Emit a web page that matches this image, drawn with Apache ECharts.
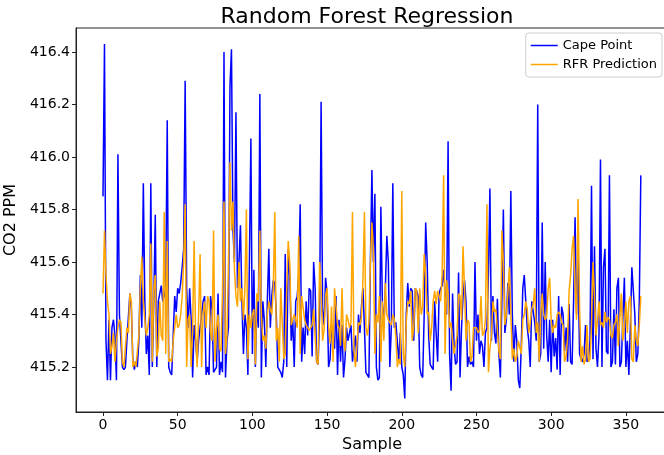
<!DOCTYPE html>
<html>
<head>
<meta charset="utf-8">
<script src="https://cdn.jsdelivr.net/npm/echarts@6/dist/echarts.min.js"></script>
<style>html,body{margin:0;padding:0;background:#fff}#c{width:664px;height:455px}</style>
</head>
<body>
<div id="c"></div>
<script>
const xTicks = [0, 50, 100, 150, 200, 250, 300, 350];
const yTicks = [415.2, 415.4, 415.6, 415.8, 416.0, 416.2, 416.4];
const capePoint = [
415.85,416.43,415.3,415.15,415.38,415.15,415.35,415.38,415.32,415.15,
416.01,415.4,415.3,415.2,415.19,415.2,415.3,415.3,415.48,415.42,
415.22,415.19,415.22,415.2,415.3,415.55,415.35,415.9,415.45,415.25,
415.32,415.17,415.9,415.2,415.45,415.78,415.2,415.45,415.45,415.51,
415.45,415.47,415.5,416.14,415.2,415.18,415.17,415.17,415.47,415.41,
415.5,415.48,415.52,415.58,415.65,416.29,415.5,415.35,415.5,415.38,
415.16,415.36,415.3,415.22,415.3,415.3,415.4,415.45,415.47,415.17,
415.2,415.17,415.47,415.42,415.18,415.18,415.2,415.48,415.17,415.22,
415.18,416.4,415.16,415.3,415.35,416.27,416.41,415.72,415.6,416.17,
415.5,415.6,415.74,415.45,415.25,415.4,415.35,415.17,415.6,416.07,
415.25,415.57,415.2,415.45,415.35,416.24,415.16,415.45,415.38,415.2,
415.45,415.65,415.35,415.47,415.53,415.52,415.4,415.2,415.2,415.18,
415.16,415.22,415.63,415.2,415.65,415.55,415.3,415.38,415.2,415.45,
415.47,415.55,415.82,415.22,415.35,415.25,415.45,415.32,415.5,415.49,
415.24,415.6,415.5,415.22,415.21,415.4,416.21,415.42,415.36,415.54,
415.48,415.2,415.23,415.36,415.3,415.27,415.47,415.17,415.38,415.22,
415.36,415.16,415.23,415.35,415.3,415.33,415.36,415.22,415.27,415.32,
415.22,415.4,415.33,415.43,415.5,415.35,415.18,415.18,415.16,415.6,
415.95,415.6,415.86,415.2,415.15,415.16,415.81,415.45,415.35,415.5,
415.7,415.6,415.2,415.35,415.9,415.35,415.37,415.3,415.22,415.33,
415.2,415.17,415.08,415.4,415.52,415.43,415.5,415.49,415.3,415.5,
415.49,415.47,415.2,415.17,415.16,415.4,415.75,415.6,415.32,415.21,
415.2,415.19,415.45,415.33,415.22,415.48,415.5,415.51,415.57,415.48,
415.4,416.06,415.25,415.11,415.48,415.28,415.21,415.22,415.56,415.16,
415.35,415.47,415.53,415.45,415.2,415.24,415.21,415.22,415.2,415.6,
415.3,415.4,415.25,415.3,415.28,415.2,415.33,415.35,415.55,415.88,
415.3,415.47,415.33,415.29,415.46,415.25,415.16,415.45,415.8,415.33,
415.38,415.52,415.4,415.87,415.4,415.22,415.36,415.3,415.15,415.12,
415.28,415.5,415.55,415.45,415.35,415.3,415.2,415.45,415.45,415.37,
415.3,416.2,415.22,415.25,415.75,415.27,415.6,415.32,415.22,415.38,
415.18,415.38,415.24,415.31,415.19,415.47,415.17,415.43,415.4,415.26,
415.35,415.22,415.44,415.22,415.21,415.45,415.77,415.4,415.61,415.25,
415.23,415.22,415.25,415.36,415.22,415.23,415.3,415.89,415.23,415.66,
415.27,415.2,415.32,415.99,415.2,415.58,415.65,415.26,415.25,415.93,
415.2,415.22,415.42,415.21,415.5,415.54,415.2,415.22,415.39,415.54,
415.2,415.3,415.17,415.35,415.58,415.49,415.4,415.22,415.25,415.45,
415.93
];
const rfrPrediction = [
415.48,415.72,415.55,415.45,415.4,415.25,415.28,415.33,415.22,415.3,
415.35,415.38,415.37,415.22,415.2,415.2,415.35,415.33,415.48,415.45,
415.2,415.22,415.2,415.26,415.32,415.5,415.62,415.45,415.38,415.32,
415.35,415.4,415.67,415.22,415.5,415.55,415.24,415.27,415.45,415.32,
415.3,415.79,415.25,415.68,415.22,415.23,415.22,415.3,415.35,415.4,
415.35,415.36,415.4,415.47,415.6,415.82,415.2,415.38,415.4,415.2,
415.35,415.68,415.32,415.2,415.4,415.63,415.2,415.4,415.45,415.35,
415.47,415.45,415.33,415.3,415.72,415.22,415.35,415.4,415.27,415.26,
415.5,415.83,415.25,415.32,415.6,415.98,415.72,415.83,415.57,415.47,
415.43,415.6,415.45,415.5,415.38,415.5,415.8,415.23,415.4,415.35,
415.4,415.42,415.21,415.48,415.45,415.72,415.4,415.3,415.32,415.27,
415.4,415.45,415.42,415.4,415.5,415.79,415.3,415.35,415.22,415.5,
415.37,415.23,415.25,415.5,415.68,415.6,415.36,415.36,415.4,415.38,
415.35,415.7,415.25,415.47,415.47,415.38,415.36,415.35,415.34,415.34,
415.36,415.42,415.42,415.22,415.21,415.6,415.5,415.3,415.34,415.47,
415.5,415.36,415.29,415.43,415.22,415.5,415.43,415.36,415.35,415.28,
415.5,415.3,415.26,415.4,415.38,415.35,415.37,415.79,415.26,415.2,
415.2,415.37,415.36,415.39,415.53,415.79,415.35,415.32,415.37,415.6,
415.75,415.65,415.25,415.4,415.37,415.47,415.22,415.45,415.3,415.52,
415.4,415.38,415.37,415.36,415.4,415.38,415.32,415.2,415.23,415.21,
415.87,415.25,415.2,415.37,415.45,415.44,415.49,415.3,415.35,415.5,
415.49,415.33,415.5,415.4,415.43,415.63,415.55,415.4,415.41,415.3,
415.35,415.45,415.49,415.44,415.49,415.49,415.45,415.55,415.93,415.25,
415.53,415.48,415.35,415.37,415.3,415.25,415.25,415.32,415.48,415.47,
415.38,415.66,415.5,415.3,415.38,415.37,415.22,415.24,415.35,415.35,
415.35,415.33,415.34,415.47,415.32,415.33,415.38,415.82,415.18,415.27,
415.32,415.45,415.41,415.42,415.42,415.26,415.23,415.72,415.6,415.36,
415.4,415.48,415.58,415.58,415.23,415.27,415.22,415.24,415.3,415.3,
415.25,415.38,415.4,415.45,415.42,415.33,415.37,415.42,415.44,415.5,
415.33,415.37,415.22,415.4,415.48,415.4,415.38,415.39,415.5,415.54,
415.38,415.33,415.36,415.35,415.4,415.41,415.4,415.37,415.36,415.22,
415.24,415.31,415.49,415.55,415.65,415.7,415.5,415.38,415.84,415.43,
415.22,415.28,415.21,415.23,415.36,415.22,415.23,415.36,415.6,415.47,
415.32,415.38,415.45,415.36,415.37,415.35,415.41,415.37,415.39,415.38,
415.32,415.31,415.36,415.37,415.4,415.28,415.39,415.48,415.3,415.35,
415.45,415.33,415.45,415.47,415.23,415.22,415.36,415.3,415.28,415.36,
415.47
];

const font = 'DejaVu Sans';
const chart = echarts.init(document.getElementById('c'), null, {renderer: 'canvas'});
const pairs = arr => arr.map((v, i) => [i, v]);
chart.setOption({
  animation: false,
  backgroundColor: '#fff',
  title: {
    text: 'Random Forest Regression',
    left: 362, top: 1, textAlign: 'center',
    textStyle: {fontFamily: font, fontSize: 22, fontWeight: 'normal', color: '#000'}
  },
  legend: {
    orient: 'vertical', right: 2, top: 33,
    icon: 'rect', itemWidth: 27, itemHeight: 1.5, itemGap: 6,
    borderColor: '#cccccc', borderWidth: 1, borderRadius: 3,
    padding: [6, 5, 6, 5],
    textStyle: {fontFamily: font, fontSize: 13, color: '#000'},
    data: ['Cape Point', 'RFR Prediction']
  },
  grid: {left: 76, width: 592, top: 28, height: 384, show: true, borderColor: '#222', borderWidth: 1,
    containLabel: false, outerBoundsMode: 'none'},
  xAxis: {
    type: 'value', min: -18.07, max: 378.2,
    name: 'Sample', nameLocation: 'middle', nameGap: 24,
    nameTextStyle: {fontFamily: font, fontSize: 16, color: '#000'},
    axisLine: {show: true, onZero: false, lineStyle: {color: '#222', width: 1}},
    axisTick: {show: true, length: 4, customValues: xTicks, lineStyle: {color: '#222'}},
    axisLabel: {customValues: xTicks, fontFamily: font, fontSize: 14, color: '#000', margin: 6},
    splitLine: {show: false}
  },
  yAxis: {
    type: 'value', min: 415.0286, max: 416.4914,
    name: 'CO2 PPM', nameLocation: 'middle', nameGap: 45,
    nameTextStyle: {fontFamily: font, fontSize: 16, color: '#000'},
    axisLine: {show: true, onZero: false, lineStyle: {color: '#222', width: 1}},
    axisTick: {show: true, length: 4, customValues: yTicks, lineStyle: {color: '#222'}},
    axisLabel: {customValues: yTicks, fontFamily: font, fontSize: 14, color: '#000', margin: 6,
      formatter: v => v.toFixed(1)},
    splitLine: {show: false}
  },
  series: [
    {name: 'Cape Point', type: 'line', data: pairs(capePoint), showSymbol: false, symbol: 'none',
      lineStyle: {color: '#0000ff', width: 1.5}, itemStyle: {color: '#0000ff'}},
    {name: 'RFR Prediction', type: 'line', data: pairs(rfrPrediction), showSymbol: false, symbol: 'none',
      lineStyle: {color: '#ffa500', width: 1.5}, itemStyle: {color: '#ffa500'}}
  ]
});
</script>
</body>
</html>
